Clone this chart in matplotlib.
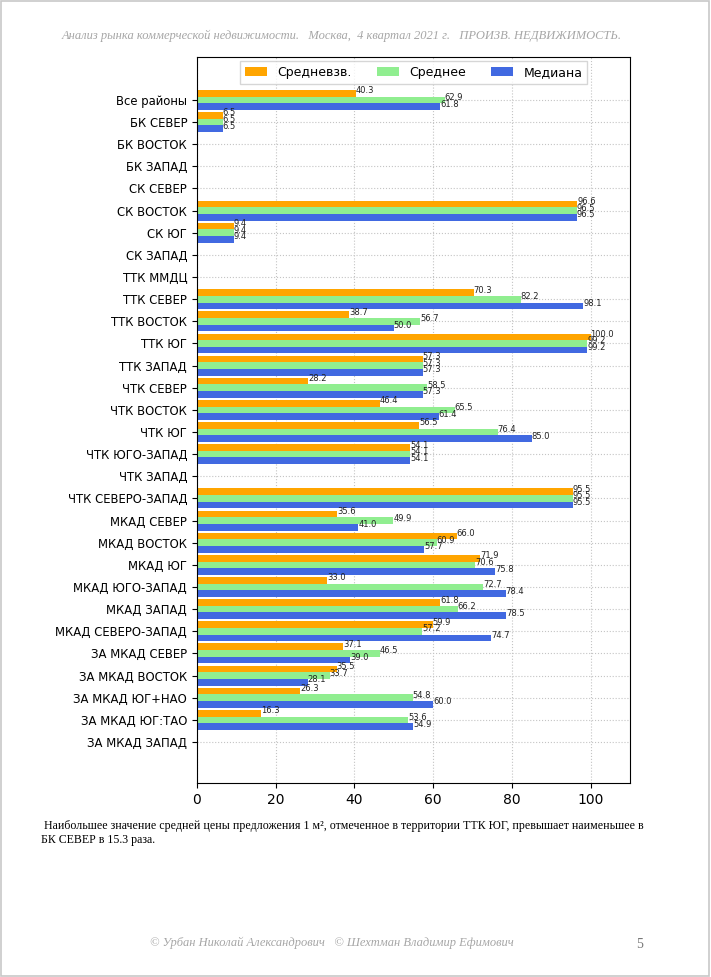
import numpy as np
from matplotlib import pyplot as plt
import matplotlib as mpl

mpl.rcParams['font.family'] = ['DejaVu Sans']

# районы (сверху вниз)
districts = ['Все районы', 'БК СЕВЕР', 'БК ВОСТОК', 'БК ЗАПАД', 'СК СЕВЕР', 'СК ВОСТОК',
             'СК ЮГ', 'СК ЗАПАД', 'ТТК ММДЦ', 'ТТК СЕВЕР', 'ТТК ВОСТОК', 'ТТК ЮГ',
             'ТТК ЗАПАД', 'ЧТК СЕВЕР', 'ЧТК ВОСТОК', 'ЧТК ЮГ', 'ЧТК ЮГО-ЗАПАД',
             'ЧТК ЗАПАД', 'ЧТК СЕВЕРО-ЗАПАД', 'МКАД СЕВЕР', 'МКАД ВОСТОК', 'МКАД ЮГ',
             'МКАД ЮГО-ЗАПАД', 'МКАД ЗАПАД', 'МКАД СЕВЕРО-ЗАПАД', 'ЗА МКАД СЕВЕР',
             'ЗА МКАД ВОСТОК', 'ЗА МКАД ЮГ+НАО', 'ЗА МКАД ЮГ:ТАО', 'ЗА МКАД ЗАПАД']

nan = np.nan
weighted = [40.3, 6.5, nan, nan, nan, 96.6, 9.4, nan, nan, 70.3, 38.7, 100.0, 57.3, 28.2,
            46.4, 56.5, 54.1, nan, 95.5, 35.6, 66.0, 71.9, 33.0, 61.8, 59.9, 37.1, 35.5,
            26.3, 16.3, nan]
mean = [62.9, 6.5, nan, nan, nan, 96.5, 9.4, nan, nan, 82.2, 56.7, 99.2, 57.3, 58.5,
        65.5, 76.4, 54.1, nan, 95.5, 49.9, 60.9, 70.6, 72.7, 66.2, 57.2, 46.5, 33.7,
        54.8, 53.6, nan]
median = [61.8, 6.5, nan, nan, nan, 96.5, 9.4, nan, nan, 98.1, 50.0, 99.2, 57.3, 57.3,
          61.4, 85.0, 54.1, nan, 95.5, 41.0, 57.7, 75.8, 78.4, 78.5, 74.7, 39.0, 28.1,
          60.0, 54.9, nan]

series = [('Средневзв.', weighted, 'orange', -0.3),
          ('Среднее', mean, 'lightgreen', 0.0),
          ('Медиана', median, 'royalblue', 0.3)]

fig = plt.figure(figsize=(7.11, 9.77), dpi=100)
ax = fig.add_axes([0.277, 0.1986, 0.609, 0.7431])

y = np.arange(len(districts))
for name, vals, col, off in series:
    vals = np.array(vals)
    ax.barh(y + off, vals, height=0.3, color=col, label=name, zorder=2)
    for yi, v in zip(y + off, vals):
        if not np.isnan(v):
            ax.text(v, yi, '%.1f' % v, fontsize=6, color='#222222', zorder=3)

ax.set_yticks(y)
ax.set_yticklabels(districts, fontsize=8.4)
ax.set_xticks([0, 20, 40, 60, 80, 100])
ax.tick_params(axis='x', labelsize=10)
ax.set_xlim(0, 110)
ax.set_ylim(len(districts) - 1 + 1.85, -1.94)
ax.grid(True, linestyle=':', color='#c4c4c4', linewidth=0.8, zorder=0)
ax.set_axisbelow(True)
ax.legend(loc='upper center', ncol=3, fontsize=9, fancybox=False, edgecolor='#cccccc',
          borderaxespad=0.3, columnspacing=2.0, handlelength=1.8)

# оформление страницы
gray = '#a6a6a6'
fig.text(0.48, 0.963, 'Анализ рынка коммерческой недвижимости.   Москва,  4 квартал 2021 г.   ПРОИЗВ. НЕДВИЖИМОСТЬ.',
         ha='center', va='center', fontsize=9, style='italic', family='Liberation Serif', color=gray)
fig.text(0.057, 0.155, ' Наибольшее значение средней цены предложения 1 м², отмеченное в территории ТТК ЮГ, превышает наименьшее в',
         ha='left', va='center', fontsize=8.6, family='Liberation Serif', color='black')
fig.text(0.057, 0.140, 'БК СЕВЕР в 15.3 раза.',
         ha='left', va='center', fontsize=8.6, family='Liberation Serif', color='black')
fig.text(0.467, 0.035, '© Урбан Николай Александрович   © Шехтман Владимир Ефимович',
         ha='center', va='center', fontsize=9, style='italic', family='Liberation Serif', color=gray)
fig.text(0.899, 0.033, '5', ha='center', va='center', fontsize=10,
         family='Liberation Serif', color='#777777')

fig.patches.append(plt.Rectangle((0.001, 0.001), 0.996, 0.998, transform=fig.transFigure,
                                 fill=False, edgecolor='#c8c8c8', linewidth=1.2))

fig.savefig('out.png', dpi=100)
